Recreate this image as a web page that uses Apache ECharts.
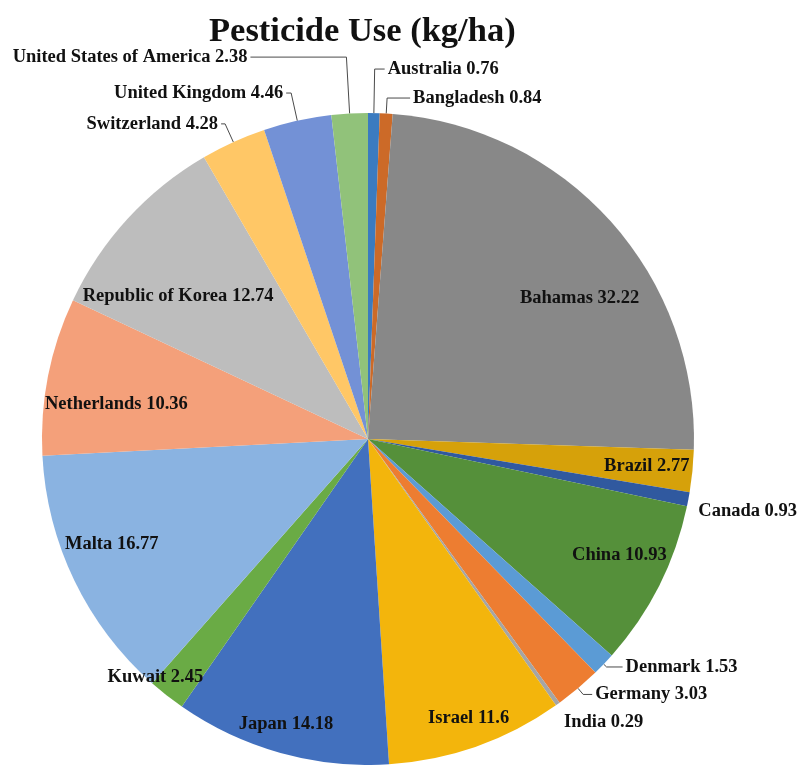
<!DOCTYPE html>
<html>
<head>
<meta charset="utf-8">
<script src="https://cdn.jsdelivr.net/npm/echarts@6/dist/echarts.min.js"></script>
<style>
html,body{margin:0;padding:0;background:#fff;}
#chart{width:797px;height:765px;}
</style>
</head>
<body>
<div id="chart"></div>
<script>
const categories = ['Australia','Bangladesh','Bahamas','Brazil','Canada','China','Denmark','Germany','India','Israel','Japan','Kuwait','Malta','Netherlands','Republic of Korea','Switzerland','United Kingdom','United States of America'];
const values = [0.76,0.84,32.22,2.77,0.93,10.93,1.53,3.03,0.29,11.6,14.18,2.45,16.77,10.36,12.74,4.28,4.46,2.38];
const sliceColors = ['#3B7BC0','#CC6A28','#888888','#D6A10A','#30599F','#55903A','#5B9BD5','#ED7D31','#A5A5A5','#F3B50C','#4270BE','#6AAB45','#8AB3E1','#F4A07A','#BDBDBD','#FFC766','#7391D6','#91C27A'];
const outsideNames = ['Australia','Bangladesh','Canada','Denmark','Germany','India','Switzerland','United Kingdom','United States of America'];

// style: leader-line lengths [radial, horizontal] for outside labels
const leaderStyle = {
  'Australia':[44,10], 'Bangladesh':[15.5,23], 'United States of America':[56.5,96],
  'United Kingdom':[28.4,5], 'Switzerland':[20,4], 'Canada':[5,2],
  'Denmark':[4,16], 'Germany':[8,9], 'India':[22,-9.6]
};
const hiddenLeader = ['India','Canada'];
// style: inside label placement [ring fraction of radius, angular shift in degrees]
const insideStyle = {
  'Bahamas':[0.77, 8.3], 'Republic of Korea':[0.72,-5.5], 'Netherlands':[0.77,-3.3],
  'Malta':[0.84, 3.5], 'Kuwait':[0.97, 3.6], 'Japan':[0.90, 0.5], 'Israel':[0.90,-0.4],
  'China':[0.84,-2], 'Brazil':[0.85, 0]
};

const R = 326;
const CENTER = [368, 439];
const font = {fontFamily:'Liberation Serif', fontWeight:'bold', fontSize:18.5, color:'#111'};

const chart = echarts.init(document.getElementById('chart'), null, {renderer:'canvas'});

const mainData = categories.map((n,i)=>{
  const out = outsideNames.includes(n);
  const d = {name:n, value:values[i], itemStyle:{color:sliceColors[i]},
    label:{show:out}, labelLine:{show:out && !hiddenLeader.includes(n)}};
  if (out) {
    d.labelLine.length = leaderStyle[n][0];
    d.labelLine.length2 = leaderStyle[n][1];
  }
  if (n === 'Canada') {
    // an empty first line drops the visible text below the leader end
    d.label.width = 200; d.label.overflow = 'none';
    d.label.formatter = '\n{b} {c}'; d.label.lineHeight = 22;
  }
  return d;
});

const series = [{
  type:'pie', radius:[0,R], center:CENTER, startAngle:90, clockwise:true,
  avoidLabelOverlap:true, silent:true,
  data:mainData,
  label:Object.assign({position:'outside', formatter:'{b} {c}', distanceToLabelLine:3}, font),
  labelLine:{lineStyle:{color:'#4a4a4a', width:1}},
  emphasis:{disabled:true}
}];

// transparent overlay rings carry the inside labels
Object.keys(insideStyle).forEach(name=>{
  const ring = insideStyle[name][0], shift = insideStyle[name][1];
  const r0 = R*(2*ring-1);
  series.push({
    type:'pie', radius:[r0,R], center:CENTER, startAngle:90-shift, clockwise:true,
    silent:true, emphasis:{disabled:true}, avoidLabelOverlap:false,
    data:categories.map((n,i)=>({name:n, value:values[i], itemStyle:{color:'rgba(0,0,0,0)'},
      label:{show:n===name}})),
    label:Object.assign({position:'inside', formatter:'{b} {c}'}, font),
    labelLine:{show:false}
  });
});

chart.setOption({
  animation:false,
  backgroundColor:'#fff',
  title:{text:'Pesticide Use (kg/ha)', left:204, top:10,
    textStyle:{fontFamily:'Liberation Serif', fontWeight:'bold', fontSize:34.5, color:'#111'}},
  series:series
});
</script>
</body>
</html>
